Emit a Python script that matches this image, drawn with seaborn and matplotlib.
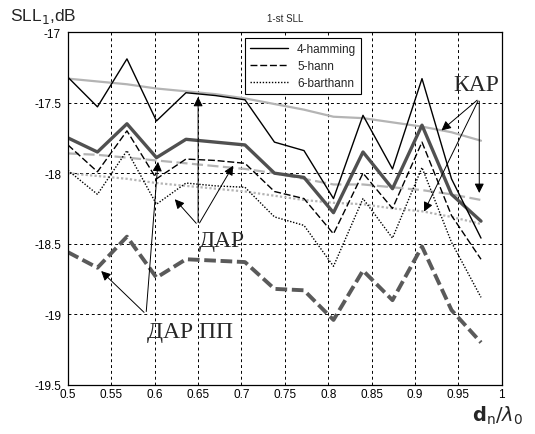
import matplotlib
matplotlib.use("Agg")
import matplotlib.pyplot as plt
import numpy as np
import pandas as pd
import seaborn as sns

# -- Data ----------------------------------------------------------------------
d_ratio = [0.500, 0.534, 0.568, 0.602, 0.636, 0.670, 0.704, 0.738,
           0.772, 0.806, 0.840, 0.874, 0.908, 0.942, 0.976]

dar_hamming = [-17.32, -17.53, -17.19, -17.63, -17.43, -17.45, -17.48, -17.78,
               -17.84, -18.18, -17.59, -17.97, -17.33, -18.04, -18.46]
dar_hann = [-17.80, -17.99, -17.70, -18.04, -17.90, -17.91, -17.93, -18.13,
            -18.18, -18.43, -18.00, -18.25, -17.78, -18.30, -18.61]
dar_barthann = [-17.98, -18.15, -17.84, -18.22, -18.07, -18.09, -18.10, -18.31,
                -18.37, -18.66, -18.18, -18.46, -17.96, -18.49, -18.88]

kar_hamming = [-17.33, -17.35, -17.37, -17.40, -17.42, -17.44, -17.47, -17.51,
               -17.55, -17.60, -17.61, -17.64, -17.67, -17.71, -17.77]
kar_hann = [-17.86, -17.87, -17.89, -17.91, -17.93, -17.95, -17.97, -18.00,
            -18.04, -18.08, -18.08, -18.10, -18.12, -18.15, -18.19]
kar_barthann = [-18.00, -18.02, -18.04, -18.07, -18.09, -18.11, -18.13, -18.16,
                -18.19, -18.21, -18.22, -18.25, -18.27, -18.31, -18.36]

darpp_solid = [-17.75, -17.85, -17.65, -17.89, -17.76, -17.78, -17.80, -18.00,
               -18.03, -18.28, -17.85, -18.11, -17.66, -18.15, -18.34]
darpp_dashed = [-18.56, -18.67, -18.45, -18.74, -18.61, -18.62, -18.63, -18.82,
                -18.83, -19.04, -18.69, -18.90, -18.52, -18.97, -19.20]

x_ticks = [0.5, 0.55, 0.6, 0.65, 0.7, 0.75, 0.8, 0.85, 0.9, 0.95, 1.0]
x_tick_labels = ["0.5", "0.55", "0.6", "0.65", "0.7", "0.75", "0.8", "0.85", "0.9", "0.95", "1"]
y_ticks = [-19.5, -19.0, -18.5, -18.0, -17.5, -17.0]
y_tick_labels = ["-19.5", "-19", "-18.5", "-18", "-17.5", "-17"]

sns.set_theme(style="white")
plt.rcParams["font.family"] = ["Liberation Sans", "DejaVu Sans"]

fig = plt.figure(figsize=(5.35, 4.35), dpi=100)
ax = fig.add_axes([0.127, 0.113, 0.811, 0.811])

LIGHT = "#b4b4b4"

# KAP (light gray)
sns.lineplot(x=d_ratio, y=kar_hamming, ax=ax, color=LIGHT, lw=1.6, linestyle="-")
sns.lineplot(x=d_ratio, y=kar_hann, ax=ax, color=LIGHT, lw=1.6, linestyle=(0, (5, 2)))
sns.lineplot(x=d_ratio, y=kar_barthann, ax=ax, color=LIGHT, lw=1.6, linestyle=(0, (1, 1)))

# ДАР ПП (thick gray)
sns.lineplot(x=d_ratio, y=darpp_solid, ax=ax, color="#505050", lw=2.4, linestyle="-")
sns.lineplot(x=d_ratio, y=darpp_dashed, ax=ax, color="#5a5a5a", lw=2.8, linestyle=(0, (3, 1.2)))

# ДАР (thin black) - legend entries
sns.lineplot(x=d_ratio, y=dar_hamming, ax=ax, color="black", lw=1.0, linestyle="-", label="4-hamming")
sns.lineplot(x=d_ratio, y=dar_hann, ax=ax, color="black", lw=1.0, linestyle=(0, (5, 2)), label="5-hann")
sns.lineplot(x=d_ratio, y=dar_barthann, ax=ax, color="black", lw=1.0, linestyle=(0, (1, 1.2)), label="6-barthann")

ax.set_xlim(0.5, 1.0)
ax.set_ylim(-19.5, -17.0)
ax.set_xticks(x_ticks)
ax.set_xticklabels(x_tick_labels)
ax.set_yticks(y_ticks)
ax.set_yticklabels(y_tick_labels)
ax.tick_params(axis="both", direction="in", length=3, labelsize=8.5, colors="black")
ax.tick_params(axis="x", pad=2)
ax.tick_params(axis="y", pad=5)
ax.grid(True, color="black", linestyle=(0, (3, 3)), linewidth=0.7)
for s in ax.spines.values():
    s.set_color("black")
    s.set_linewidth(0.9)

leg = ax.legend(loc="upper left", bbox_to_anchor=(0.395, 1.0), fontsize=8.5,
                frameon=True, fancybox=False, edgecolor="black", framealpha=1,
                handlelength=3.2, borderpad=0.4, labelspacing=0.45)
leg.get_frame().set_linewidth(0.8)

ax.set_title("1-st SLL", fontsize=7, pad=8)

# annotations
arrow = dict(arrowstyle="-|>", color="black", lw=0.7, mutation_scale=14)
serif = ["Liberation Serif", "DejaVu Serif"]

for tip in [(0.65, -17.44), (0.621, -18.17), (0.692, -17.93)]:
    ax.annotate("", xy=tip, xytext=(0.65, -18.37), arrowprops=arrow)
ax.text(0.651, -18.48, "ДАР", fontsize=17, family=serif, va="center", ha="left")

for tip in [(0.928, -17.71), (0.909, -18.29), (0.974, -18.16)]:
    ax.annotate("", xy=tip, xytext=(0.974, -17.47), arrowprops=arrow)
ax.text(0.971, -17.37, "КАР", fontsize=17, family=serif, va="center", ha="center")

for tip in [(0.536, -18.68), (0.604, -17.90)]:
    ax.annotate("", xy=tip, xytext=(0.590, -19.0), arrowprops=arrow)
ax.text(0.591, -19.12, "ДАР ПП", fontsize=17, family=serif, va="center", ha="left")

fig.text(0.019, 0.985, "SLL$_1$,dB", fontsize=12.5, va="top", ha="left")
fig.text(0.882, 0.030, r"$\mathbf{d}_\mathrm{n}/\lambda_0$", fontsize=14, va="baseline", ha="left")

fig.savefig("out.png", dpi=100)
